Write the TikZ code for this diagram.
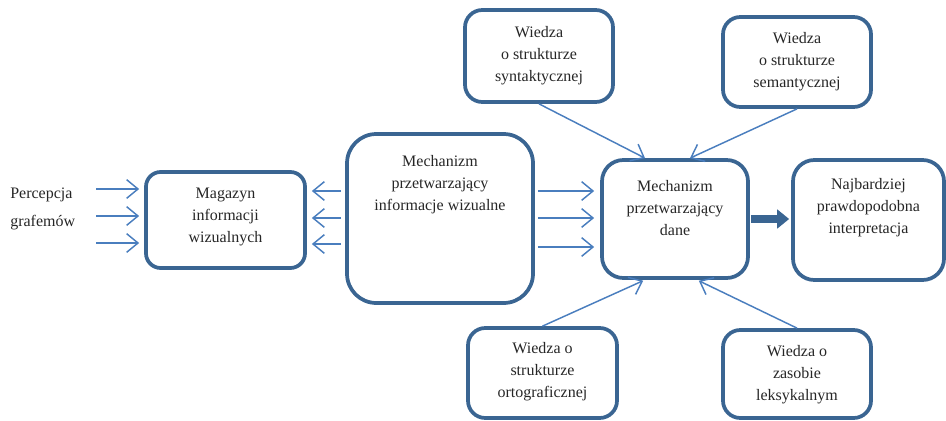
\documentclass[tikz,border=0pt]{standalone}
\usepackage{fontspec}
\setmainfont{Liberation Serif}
\usetikzlibrary{arrows.meta}
\definecolor{boxblue}{HTML}{3A6592}
\definecolor{arrblue}{HTML}{4A7EBE}
\definecolor{txtgray}{HTML}{262626}
\begin{document}
\begin{tikzpicture}[x=0.75pt,y=-0.75pt,
  box/.style={draw=boxblue, line width=2.8pt, rounded corners=13pt, inner sep=0pt},
  txt/.style={align=center, text=txtgray, font=\fontsize{12}{16.5}\selectfont, inner sep=0pt},
  arr/.style={draw=arrblue, line width=1.1pt, -{Straight Barb[length=8.5pt,width=14pt,line width=1.1pt]}},
  bigarr/.style={draw=boxblue, line width=6pt, -{Triangle[length=9pt,width=14pt]}}]
\useasboundingbox (0,0) rectangle (946,421);
% boxes
\node[box, minimum width=119.25pt, minimum height=72pt, rounded corners=11pt] (mag) at (225.5,220) {};
\node[box, minimum width=139.5pt, minimum height=126.75pt, rounded corners=22pt] (wiz) at (440,218.5) {};
\node[box, minimum width=109.5pt, minimum height=88.5pt, rounded corners=16pt] (dane) at (675,219) {};
\node[box, minimum width=113.25pt, minimum height=90pt, rounded corners=16pt] (najb) at (868.5,220) {};
\node[box, minimum width=111pt, minimum height=69pt] (synt) at (539,56) {};
\node[box, minimum width=111pt, minimum height=67.5pt] (sem) at (797,62) {};
\node[box, minimum width=111.75pt, minimum height=67.5pt] (orto) at (542.5,373) {};
\node[box, minimum width=111pt, minimum height=66pt] (leks) at (797,374) {};
% texts
\node[txt, anchor=west] (perc) at (10,195) {Percepcja};
\node[txt, anchor=west] (graf) at (10,223) {grafemów};
\node[txt] (t-mag) at (225.5,217) {Magazyn\\informacji\\wizualnych};
\node[txt] (t-wiz) at (440,185) {Mechanizm\\przetwarzający\\informacje wizualne};
\node[txt] (t-dane) at (675,208) {Mechanizm\\przetwarzający\\dane};
\node[txt] (t-najb) at (868.5,208) {Najbardziej\\prawdopodobna\\interpretacja};
\node[txt] (t-synt) at (539,56) {Wiedza\\o strukturze\\syntaktycznej};
\node[txt] (t-sem) at (797,62) {Wiedza\\o strukturze\\semantycznej};
\node[txt] (t-orto) at (542.5,372) {Wiedza o\\strukturze\\ortograficznej};
\node[txt] (t-leks) at (797,375) {Wiedza o\\zasobie\\leksykalnym};
% input arrows
\coordinate (in1) at (96,189);
\coordinate (in2) at (96,216);
\coordinate (in3) at (96,243);
\foreach \c in {in1,in2,in3}
  \draw[arr, shorten >=3.75pt] (\c) -- (mag.west |- \c);
% wiz -> mag
\foreach \yy in {191,218,244}
  \draw[arr, shorten <=3pt, shorten >=3.75pt] (wiz.west |- 0,\yy) -- (mag.east |- 0,\yy);
% wiz -> dane
\foreach \yy in {191,218,247}
  \draw[arr, shorten <=2.25pt, shorten >=4.5pt] (wiz.east |- 0,\yy) -- (dane.west |- 0,\yy);
% knowledge -> dane
\draw[arr] (synt.south) -- (645,0 |- dane.north);
\draw[arr] (sem.south) -- (690,0 |- dane.north);
\draw[arr, shorten >=1.5pt] (orto.north) -- (645,0 |- dane.south);
\draw[arr, shorten >=1.5pt] (leks.north) -- (697,0 |- dane.south);
% result
\draw[bigarr, shorten <=0.75pt, shorten >=1.5pt] (dane.east) -- (najb.west |- dane.east);
\end{tikzpicture}
\end{document}
